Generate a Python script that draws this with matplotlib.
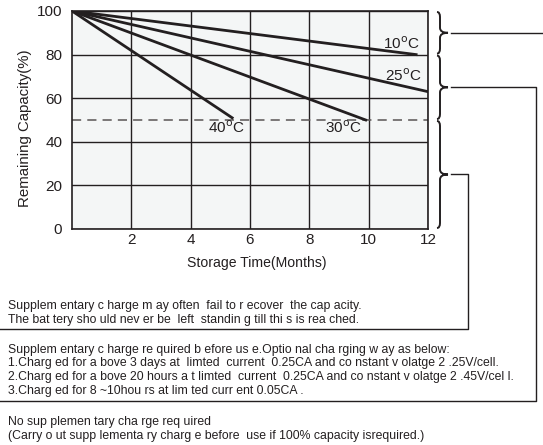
import matplotlib
matplotlib.use("Agg")
import matplotlib.pyplot as plt
from matplotlib.path import Path
from matplotlib.patches import PathPatch

plt.rcParams["font.family"] = ["Liberation Sans", "DejaVu Sans"]

# storage curves: (months, remaining capacity %)
temps = ["10", "25", "30", "40"]
curve_x = {"10": [0, 11.6], "25": [0, 12], "30": [0, 9.9], "40": [0, 5.4]}
curve_y = {"10": [100, 80], "25": [100, 63], "30": [100, 50], "40": [100, 51]}
label_pos = {"10": (11.1, 85), "25": (11.15, 70.5), "30": (9.15, 46.5), "40": (5.2, 46.5)}

x_ticks = [2, 4, 6, 8, 10, 12]
y_ticks = [0, 20, 40, 60, 80, 100]
limit_line = 50

# brace zones on the right (capacity ranges)
zones = [(100, 80), (80, 50), (50, 0)]

notes_1 = ["Supplem entary c harge m ay often  fail to r ecover  the cap acity.",
           "The bat tery sho uld nev er be  left  standin g till thi s is rea ched."]
notes_2 = ["Supplem entary c harge re quired b efore us e.Optio nal cha rging w ay as below:",
           "1.Charg ed for a bove 3 days at  limted  current  0.25CA and co nstant v olatge 2 .25V/cell.",
           "2.Charg ed for a bove 20 hours a t limted  current  0.25CA and co nstant v olatge 2 .45V/cel l.",
           "3.Charg ed for 8 ~10hou rs at lim ted curr ent 0.05CA ."]
notes_3 = ["No sup plemen tary cha rge req uired",
           "(Carry o ut supp lementa ry charg e before  use if 100% capacity isrequired.)"]

W, H = 543, 445
ink = "#231f20"

fig = plt.figure(figsize=(W / 100, H / 100), dpi=100)
ax = fig.add_axes([72 / W, 1 - 229 / H, 356 / W, 218 / H])
ax.set_facecolor("#f4f6f6")
ax.set_xlim(0, 12)
ax.set_ylim(0, 100)
ax.set_xticks(x_ticks)
ax.set_yticks(y_ticks)
ax.tick_params(length=0, labelsize=11, colors=ink)
ax.tick_params(axis="y", pad=7)
ax.tick_params(axis="x", pad=3)
ax.grid(True, color=ink, lw=1.0)
for s in ax.spines.values():
    s.set_color(ink)
    s.set_linewidth(1.2)
ax.axhline(limit_line, color="#5a5555", lw=1.1, ls=(0, (6, 4)), zorder=2)
for t in temps:
    ax.plot(curve_x[t], curve_y[t], color=ink, lw=2.0, zorder=3)
    ax.text(*label_pos[t], t + r"$^{\rm o}$C", fontsize=11, ha="center", va="center", color=ink)
ax.set_ylabel("Remaining Capacity(%)", fontsize=10.8, color=ink)
ax.set_xlabel("Storage Time(Months)", fontsize=10.1, color=ink)
ax.yaxis.set_label_coords(-0.112, 0.463)
ax.xaxis.set_label_coords(0.52, -0.126)

# overlay in pixel coords (top-left origin)
ov = fig.add_axes([0, 0, 1, 1])
ov.set_xlim(0, W)
ov.set_ylim(H, 0)
ov.axis("off")


def to_px(v):
    return H - ax.transData.transform((12, v))[1]


def brace(x, ya, yb, w=8, c=3, r=5):
    ym = (ya + yb) / 2
    verts = [(x - c, ya), (x, ya), (x, ya + r), (x, ym - r), (x, ym), (x + w, ym),
             (x, ym), (x, ym + r), (x, yb - r), (x, yb), (x - c, yb)]
    codes = [Path.MOVETO, Path.CURVE3, Path.CURVE3, Path.LINETO, Path.CURVE3, Path.CURVE3,
             Path.CURVE3, Path.CURVE3, Path.LINETO, Path.CURVE3, Path.CURVE3]
    ov.add_patch(PathPatch(Path(verts, codes), fill=False, ec=ink, lw=1.4))
    return ym


tips = [brace(440, to_px(a) + 1, to_px(b) - 1) for a, b in zones]
lk = dict(color=ink, lw=1.0)
# zone 1 -> note 3 (goes off to the right)
ov.plot([451, W], [tips[0], tips[0]], **lk)
# zone 2 -> note 2 box
ov.plot([451, 536, 536, 0], [tips[1], tips[1], 401, 401], **lk)
# zone 3 -> note 1 box
ov.plot([451, 468, 468, 0], [tips[2], tips[2], 329, 329], **lk)

tk = dict(fontsize=8.8, color=ink, va="center", ha="left")
for i, s in enumerate(notes_1):
    ov.text(8, 306 + 14 * i, s, **tk)
for i, s in enumerate(notes_2):
    ov.text(8, 349.5 + 13.8 * i, s, **tk)
for i, s in enumerate(notes_3):
    ov.text(8, 422 + 14 * i, s, **tk)

fig.savefig("out.png", dpi=100)
